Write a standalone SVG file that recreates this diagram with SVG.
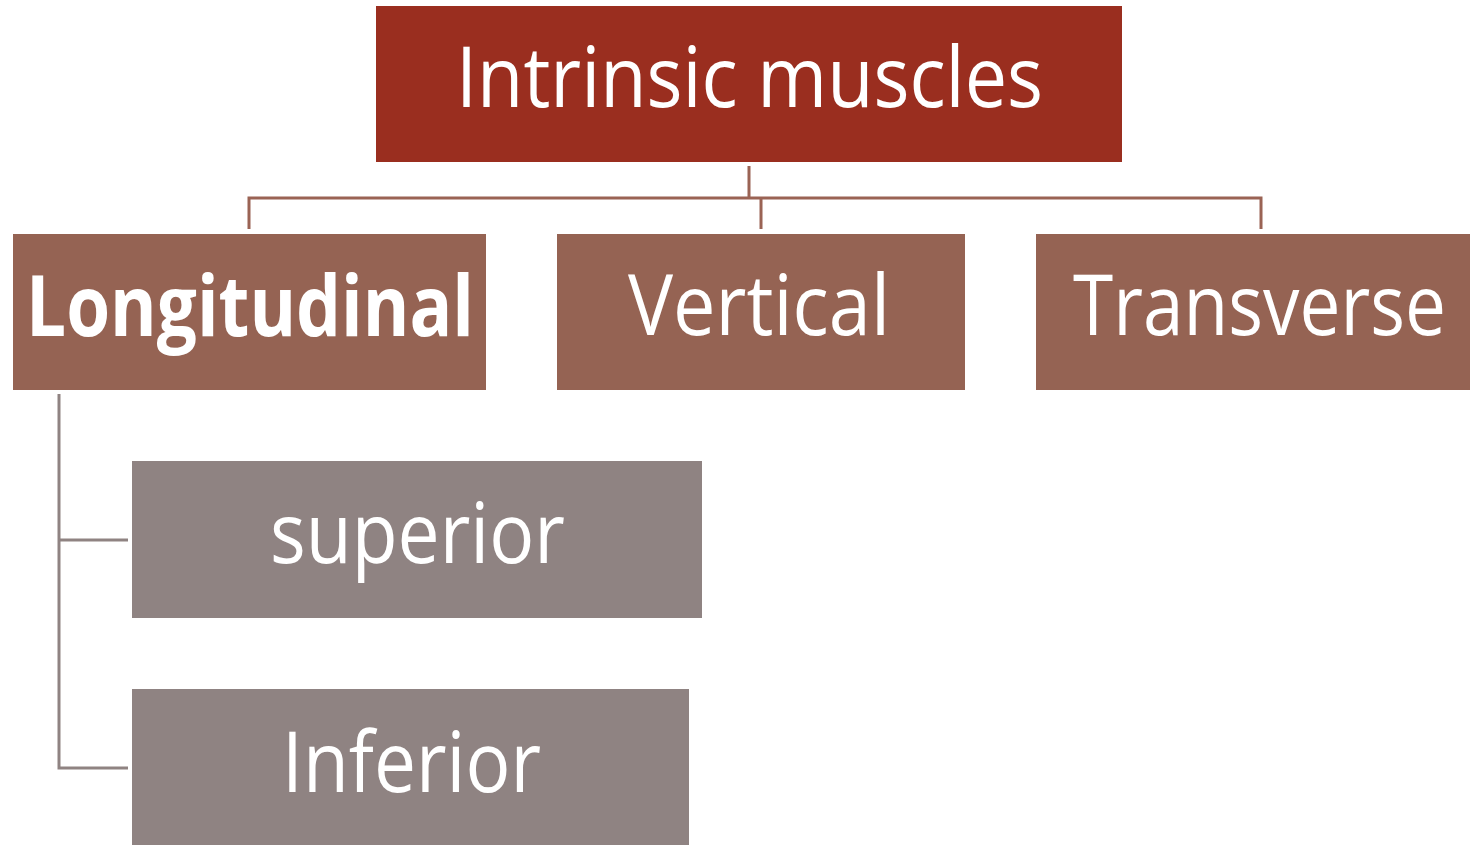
<svg xmlns="http://www.w3.org/2000/svg" width="1470" height="845" viewBox="0 0 1470 845">
<style>
.t{font-family:"Open Sans","Noto Sans","Liberation Sans",sans-serif;fill:#fff;text-anchor:middle;font-size:84px}
.b{font-weight:bold}
.c1{fill:none;stroke:#9A6354;stroke-width:3}
.c2{fill:none;stroke:#8F8382;stroke-width:3}
</style>
<rect width="1470" height="845" fill="#fff"/>
<g id="connectors">
<path class="c1" d="M749 166V198M249 229V198H1261V229M761 198V229"/>
<path class="c2" d="M59 394V768H128M59 540H128"/>
</g>
<g id="intrinsic"><rect x="376" y="6" width="746" height="156" fill="#9A2E1F"/><text class="t" x="749.5" y="107" textLength="587" lengthAdjust="spacingAndGlyphs">Intrinsic muscles</text></g>
<g id="longitudinal"><rect x="13" y="234" width="473" height="156" fill="#956353"/><text class="t b" x="250" y="336" textLength="448" lengthAdjust="spacingAndGlyphs">Longitudinal</text></g>
<g id="vertical"><rect x="557" y="234" width="408" height="156" fill="#956353"/><text class="t" x="759" y="335" textLength="262" lengthAdjust="spacingAndGlyphs">Vertical</text></g>
<g id="transverse"><rect x="1036" y="234" width="434" height="156" fill="#956353"/><text class="t" x="1259.5" y="335" textLength="373" lengthAdjust="spacingAndGlyphs">Transverse</text></g>
<g id="superior"><rect x="132" y="461" width="570" height="157" fill="#8F8382"/><text class="t" x="417.5" y="563" textLength="295" lengthAdjust="spacingAndGlyphs">superior</text></g>
<g id="inferior"><rect x="132" y="689" width="557" height="156" fill="#8F8382"/><text class="t" x="411.5" y="792" textLength="259" lengthAdjust="spacingAndGlyphs">Inferior</text></g>
</svg>
